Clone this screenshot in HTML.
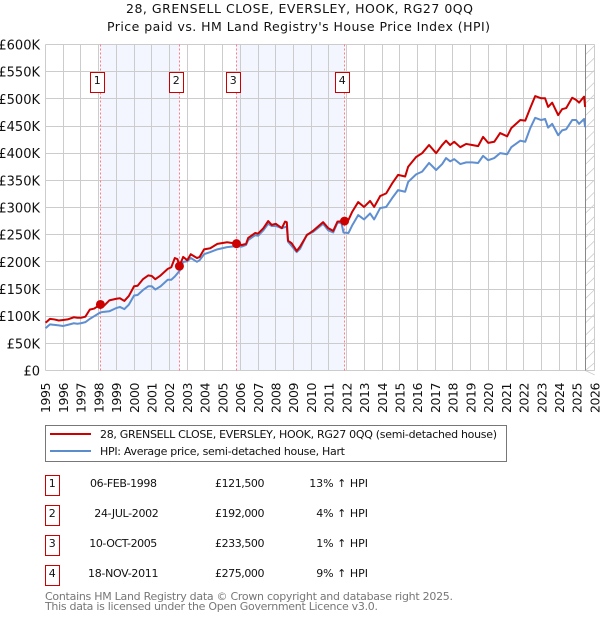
<!DOCTYPE html>
<html lang="en">
<head>
<meta charset="utf-8">
<title>28, Grensell Close price paid vs. HPI</title>
<style>
html,body{margin:0;padding:0;background:#fff;}
svg{display:block;font-family:"DejaVu Sans","Liberation Sans",sans-serif;}
</style>
</head>
<body>
<svg id="chart" width="600" height="620" viewBox="0 0 600 620" xmlns="http://www.w3.org/2000/svg">
<text x="299.5" y="13" font-size="12.5" text-anchor="middle" fill="#111" textLength="347" lengthAdjust="spacing">28, GRENSELL CLOSE, EVERSLEY, HOOK, RG27 0QQ</text>
<text x="298.5" y="31" font-size="12.5" text-anchor="middle" fill="#111" textLength="383" lengthAdjust="spacing">Price paid vs. HM Land Registry's House Price Index (HPI)</text>
<g id="plot"></g>
<g>
<rect x="45.5" y="425.5" width="461" height="36" fill="#fff" stroke="#777" stroke-width="1"/>
<line x1="50" x2="91" y1="434" y2="434" stroke="#cc0000" stroke-width="2"/>
<text x="100" y="438" font-size="11" fill="#111" textLength="397" lengthAdjust="spacing">28, GRENSELL CLOSE, EVERSLEY, HOOK, RG27 0QQ (semi-detached house)</text>
<line x1="50" x2="91" y1="451" y2="451" stroke="#5b8ccc" stroke-width="2"/>
<text x="100" y="455" font-size="11" fill="#111" textLength="245" lengthAdjust="spacing">HPI: Average price, semi-detached house, Hart</text>
</g>
<g>
<rect x="45.5" y="475.5" width="14" height="20" fill="#fff" stroke="#c00" stroke-width="1"/>
<text x="52.3" y="487" font-size="11" text-anchor="middle" fill="#111">1</text>
<text x="90" y="487" font-size="11" fill="#111" textLength="67" lengthAdjust="spacing">06-FEB-1998</text>
<text x="215" y="487" font-size="11" fill="#111" textLength="49.5" lengthAdjust="spacing">£121,500</text>
<text x="368" y="487" font-size="11" text-anchor="end" fill="#111">13% ↑ HPI</text>
<rect x="45.5" y="505.5" width="14" height="20" fill="#fff" stroke="#c00" stroke-width="1"/>
<text x="52.3" y="517" font-size="11" text-anchor="middle" fill="#111">2</text>
<text x="94.3" y="517" font-size="11" fill="#111" textLength="64.5" lengthAdjust="spacing">24-JUL-2002</text>
<text x="215" y="517" font-size="11" fill="#111" textLength="49.5" lengthAdjust="spacing">£192,000</text>
<text x="368" y="517" font-size="11" text-anchor="end" fill="#111">4% ↑ HPI</text>
<rect x="45.5" y="535.5" width="14" height="20" fill="#fff" stroke="#c00" stroke-width="1"/>
<text x="52.3" y="547" font-size="11" text-anchor="middle" fill="#111">3</text>
<text x="89.3" y="547" font-size="11" fill="#111" textLength="68" lengthAdjust="spacing">10-OCT-2005</text>
<text x="215" y="547" font-size="11" fill="#111" textLength="49.5" lengthAdjust="spacing">£233,500</text>
<text x="368" y="547" font-size="11" text-anchor="end" fill="#111">1% ↑ HPI</text>
<rect x="45.5" y="565.5" width="14" height="20" fill="#fff" stroke="#c00" stroke-width="1"/>
<text x="52.3" y="577" font-size="11" text-anchor="middle" fill="#111">4</text>
<text x="88" y="577" font-size="11" fill="#111" textLength="70.5" lengthAdjust="spacing">18-NOV-2011</text>
<text x="215" y="577" font-size="11" fill="#111" textLength="49.5" lengthAdjust="spacing">£275,000</text>
<text x="368" y="577" font-size="11" text-anchor="end" fill="#111">9% ↑ HPI</text>
</g>
<text x="45" y="600" font-size="11" fill="#777" textLength="408" lengthAdjust="spacing">Contains HM Land Registry data © Crown copyright and database right 2025.</text>
<text x="45" y="610" font-size="11" fill="#777" textLength="333" lengthAdjust="spacing">This data is licensed under the Open Government Licence v3.0.</text>
</svg>
<script>
const yearTicks = [1995,1996,1997,1998,1999,2000,2001,2002,2003,2004,2005,2006,2007,2008,2009,2010,2011,2012,2013,2014,2015,2016,2017,2018,2019,2020,2021,2022,2023,2024,2025,2026];
const valueTicks = [0,50,100,150,200,250,300,350,400,450,500,550,600];
const valueTickLabels = ['£0','£50K','£100K','£150K','£200K','£250K','£300K','£350K','£400K','£450K','£500K','£550K','£600K'];

const priceDates = [1995,1995.08,1995.25,1995.5,1995.75,1996,1996.25,1996.6,1996.8,1997,1997.25,1997.5,1997.75,1998.1,1998.3,1998.6,1999,1999.2,1999.45,1999.7,2000,2000.2,2000.5,2000.8,2001,2001.2,2001.5,2001.9,2002.1,2002.3,2002.45,2002.56,2002.77,2003,2003.2,2003.55,2003.7,2003.95,2004.3,2004.7,2005.25,2005.78,2006.08,2006.32,2006.44,2006.83,2007,2007.3,2007.57,2007.77,2008,2008.34,2008.52,2008.62,2008.69,2008.9,2009.18,2009.37,2009.75,2010.1,2010.67,2010.96,2011.24,2011.48,2011.82,2012.1,2012.31,2012.65,2012.98,2013.32,2013.55,2013.89,2014.23,2014.56,2014.9,2015.3,2015.47,2015.92,2016.26,2016.65,2017.05,2017.39,2017.61,2017.84,2018.07,2018.41,2018.75,2019.08,2019.42,2019.7,2019.99,2020.33,2020.66,2021.06,2021.29,2021.8,2022.08,2022.36,2022.64,2022.98,2023.2,2023.37,2023.6,2023.94,2024.16,2024.39,2024.73,2024.95,2025.12,2025.4,2025.46];
const priceValues = [88,90,95,94,92,93,94,98,97,97,99,112,114,121.5,119,129,132,133,128,137,155,156,168,175,174,168,175,187,190,207,205,192,209,203,214,207,209,223,225,233,236,233.5,231,233,244,253,252,262,275,268,270,262,274,273,239,234,220,228,249,257,273,262,257,274,275,277,292,310,301,312,301,321,326,344,360,357,375,393,400,415,400,415,423,415,421,411,417,415,413,430,419,421,437,431,446,461,460,483,505,501,501,485,493,470,481,483,502,498,493,504,485];
const hpiDates = [1995,1995.08,1995.25,1995.5,1995.75,1996,1996.25,1996.6,1996.8,1997,1997.25,1997.5,1997.75,1998.1,1998.3,1998.6,1999,1999.2,1999.45,1999.7,2000,2000.2,2000.5,2000.8,2001,2001.2,2001.5,2001.9,2002.1,2002.3,2002.56,2002.77,2003,2003.2,2003.55,2003.7,2003.95,2004.3,2004.7,2005.25,2005.78,2006.08,2006.32,2006.44,2006.83,2007,2007.3,2007.57,2007.77,2008,2008.34,2008.52,2008.62,2008.69,2008.9,2009.18,2009.37,2009.75,2010.1,2010.67,2010.96,2011.24,2011.48,2011.7,2011.82,2012.1,2012.31,2012.4,2012.65,2012.98,2013.32,2013.55,2013.89,2014.23,2014.56,2014.9,2015.3,2015.47,2015.92,2016.26,2016.65,2017.05,2017.39,2017.61,2017.84,2018.07,2018.41,2018.75,2019.08,2019.42,2019.7,2019.99,2020.33,2020.66,2021.06,2021.29,2021.8,2022.08,2022.36,2022.64,2022.98,2023.2,2023.37,2023.6,2023.94,2024.16,2024.39,2024.73,2024.95,2025.12,2025.4,2025.46];
const hpiValues = [78,80,85,84,83,82,84,87,86,87,89,95,100,107,108,109,115,117,113,121,138,139,148,155,155,149,155,167,167,173,183,200,201,207,200,203,214,218,223,227,229,228,231,240,249,248,258,270,266,266,262,264,264,237,229,218,224,250,255,270,258,254,272,272,254,253,267,272,286,278,289,278,299,301,317,332,329,347,361,366,382,369,380,391,385,389,380,383,383,382,395,387,391,400,398,411,423,421,446,465,461,463,447,454,433,442,444,461,461,454,463,448];

const saleNumbers = [1,2,3,4];
const saleDates = [1998.1,2002.56,2005.78,2011.88];
const saleValues = [121.5,192,233.5,275];

const lastDataYear = 2025.47;
const SVGNS = 'http://www.w3.org/2000/svg';
const plot = document.getElementById('plot');
const left = 45.5, right = 594.7, top_ = 44.5, bottom = 370.5;
function xScale(year){ return left + (year - 1995) / (2026 - 1995) * (right - left); }
function yScale(v){ return bottom - v / 600 * (bottom - top_); }
function crisp(p){ return Math.floor(p) + 0.5; }
function make(tag, attrs, text){
  const el = document.createElementNS(SVGNS, tag);
  for (const k in attrs) el.setAttribute(k, attrs[k]);
  if (text !== undefined) el.textContent = text;
  plot.appendChild(el);
  return el;
}
// shaded bands between alternating sales
for (let i = 0; i < saleDates.length; i += 2) {
  const band = make('rect', {x: xScale(saleDates[i]), y: top_, width: xScale(saleDates[i+1]) - xScale(saleDates[i]), height: bottom - top_, fill: '#f3f6fe'});
  
  
}
// horizontal grid and y labels
valueTicks.forEach(function(v, i){
  const g = make('line', {x1: left, x2: right, y1: crisp(yScale(v)), y2: crisp(yScale(v)), stroke: '#ccc', 'stroke-width': 1});
  
  
  const t = make('text', {x: 40, y: yScale(v) + 5, 'font-size': 13, 'text-anchor': 'end', fill: '#111'}, valueTickLabels[i]);
  
  
});
// vertical grid and x labels
yearTicks.forEach(function(y){
  const g = make('line', {x1: crisp(xScale(y)), x2: crisp(xScale(y)), y1: top_, y2: bottom, stroke: '#ccc', 'stroke-width': 1});
  
  
  const px = xScale(y) + 4.7;
  const t = make('text', {x: px, y: 413, 'font-size': 12.5, fill: '#111', transform: 'rotate(-90 ' + px + ' 413)', textLength: 30.5, lengthAdjust: 'spacing'}, String(y));
  
  
});
// hatched no-data region
const hatchLeft = xScale(lastDataYear);
for (let y = top_ + 1; y < bottom + 9; y += 12.2) {
  const h = make('line', {x1: hatchLeft, x2: right, y1: Math.min(y + 9.2, bottom), y2: y, stroke: '#ccc', 'stroke-width': 0.8});
  
  
}
const endLine = make('line', {x1: crisp(hatchLeft), x2: crisp(hatchLeft), y1: top_, y2: bottom, stroke: '#888', 'stroke-width': 1});


// sale lines
saleDates.forEach(function(d){
  const l = make('line', {x1: crisp(xScale(d)), x2: crisp(xScale(d)), y1: top_, y2: bottom, stroke: '#ff7a84', 'stroke-width': 1, 'stroke-dasharray': '2 2'});
  
  
});
function pathFor(dates, values){
  return dates.map(function(d, i){ return (i ? 'L' : 'M') + xScale(d).toFixed(2) + ' ' + yScale(values[i]).toFixed(2); }).join('');
}
const hpiLine = make('path', {d: pathFor(hpiDates, hpiValues), fill: 'none', stroke: '#5f8fd0', 'stroke-width': 2, 'stroke-linejoin': 'round'});


const priceLine = make('path', {d: pathFor(priceDates, priceValues), fill: 'none', stroke: '#cc0000', 'stroke-width': 2, 'stroke-linejoin': 'round'});


// sale points and badges
saleDates.forEach(function(d, i){
  const c = make('circle', {cx: xScale(d), cy: yScale(saleValues[i]), r: 4.5, fill: '#cc0000'});
  
  
  const b = make('rect', {x: Math.round(xScale(d)) - 9.5, y: 72.5, width: 14, height: 20, fill: '#fff', stroke: '#cc0000', 'stroke-width': 1});
  
  
  const n = make('text', {x: Math.round(xScale(d)) - 2.7, y: 84, 'font-size': 11, 'text-anchor': 'middle', fill: '#111'}, String(saleNumbers[i]));
  
  
});
</script>
</body>
</html>
